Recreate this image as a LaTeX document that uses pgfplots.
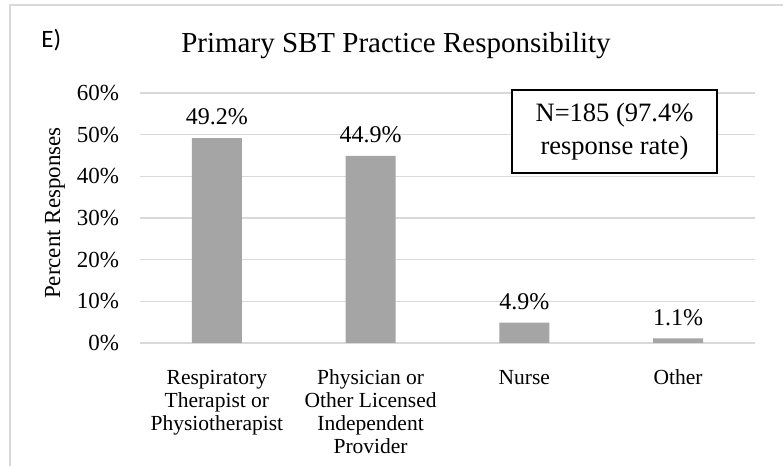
\documentclass[border=0pt]{standalone}
\usepackage{fontspec}
\setmainfont{Liberation Serif}
\newfontfamily\calibri{Carlito}
\usepackage{pgfplots}
\pgfplotsset{compat=1.18}
\definecolor{bargray}{HTML}{A5A5A5}
\definecolor{gridgray}{HTML}{D9D9D9}
\begin{document}
\begin{tikzpicture}
\path[use as bounding box] (0,0) rectangle (391.5pt,233pt);
% outer frame (only top and left edges are visible)
\draw[gridgray, line width=1pt] (5pt,0) -- (5pt,230.5pt) -- (391.5pt,230.5pt);
\begin{axis}[
  at={(70pt,61.5pt)}, anchor=south west,
  width=307.5pt, height=125pt, scale only axis,
  xmin=-0.5, xmax=3.5, ymin=0, ymax=60,
  enlargelimits=false, clip=false,
  ybar, bar width=25pt,
  axis line style={draw=none},
  tick style={draw=none},
  ymajorgrids, major grid style={gridgray, line width=0.75pt},
  ytick={0,10,20,30,40,50,60},
  yticklabel={\pgfmathprintnumber{\tick}\%},
  yticklabel style={font=\fontsize{11.5}{13}\selectfont, anchor=east, xshift=-7pt},
  xtick={0,1,2,3},
  xticklabels={{\strut Respiratory\\Therapist or\\Physiotherapist},{\strut Physician or\\Other Licensed\\Independent\\Provider},{\strut Nurse},{\strut Other}},
  xticklabel style={align=center, anchor=north, font=\fontsize{10.75}{11.5}\selectfont, yshift=-5pt},
  ylabel={Percent Responses},
  ylabel style={at={(axis description cs:-0.138,0.52)}, anchor=center, rotate=0, font=\fontsize{11.5}{13}\selectfont},
  /pgf/number format/assume math mode=true,
  nodes near coords={\pgfmathprintnumber[fixed,fixed zerofill,precision=1]{\pgfplotspointmeta}\%},
  every node near coord/.append style={font=\fontsize{12}{13}\selectfont, yshift=3pt, black},
]
\addplot[fill=bargray, draw=none] coordinates {(0,49.2) (1,44.9) (2,4.9) (3,1.1)};
\end{axis}
\node[anchor=base, font=\fontsize{14.5}{16}\selectfont] at (198pt,206.5pt) {Primary SBT Practice Responsibility};
\node[anchor=base west, inner sep=0pt, font=\calibri\fontsize{12.5}{14}\selectfont] at (20.5pt,209pt) {E)};
\node[draw=black, line width=1pt, fill=white, minimum width=102.5pt, minimum height=41.5pt, align=center,
  font=\fontsize{13.25}{16.5}\selectfont] at (307.25pt,167.25pt) {N=185 (97.4\%\\response rate)};
\end{tikzpicture}
\end{document}
